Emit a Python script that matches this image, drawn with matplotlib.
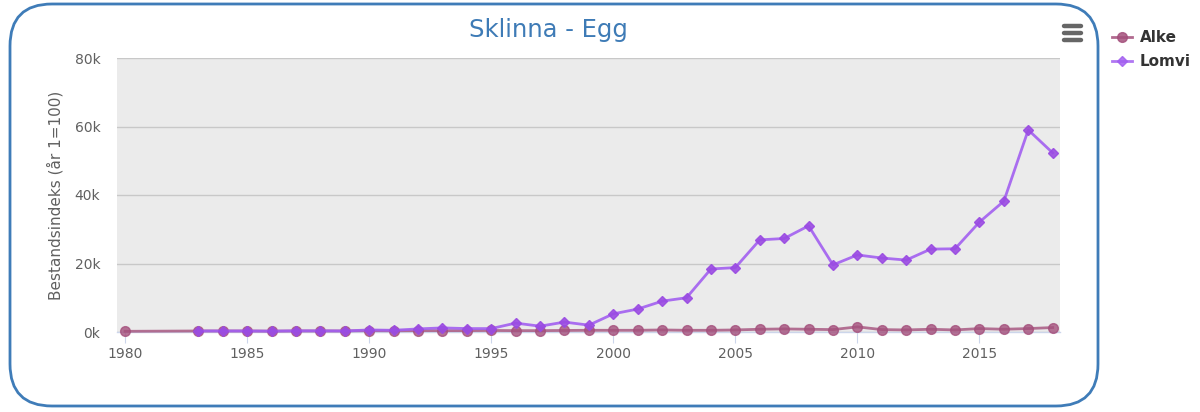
import matplotlib
matplotlib.use("Agg")
import matplotlib.pyplot as plt
from matplotlib.patches import FancyBboxPatch
from matplotlib.lines import Line2D

years_alke = [1980] + list(range(1983, 2019))
alke = [200,
        300, 300, 300, 250, 300, 300, 300, 400, 350, 400,
        400, 400, 450, 400, 400, 450, 500, 500, 500, 600,
        500, 500, 600, 800, 900, 800, 700, 1500, 700, 600,
        800, 600, 1000, 800, 1000, 1300]

years_lomvi = list(range(1983, 2019))
lomvi = [300, 300, 300, 250, 350, 350, 300, 600, 500, 900, 1200, 1000, 1000,
         2600, 1700, 2900, 2000, 5300, 6700, 9000, 10000, 18400, 18800, 26900,
         27300, 31000, 19600, 22500, 21600, 21000, 24200, 24300, 32100, 38200,
         59000, 52300]

yticks = [0, 20000, 40000, 60000, 80000]
ytick_labels = ["0k", "20k", "40k", "60k", "80k"]
xticks = [1980, 1985, 1990, 1995, 2000, 2005, 2010, 2015]

c_alke = "#a4507c"
c_lomvi = "#a25ff0"

fig = plt.figure(figsize=(12, 4.12), dpi=100)
fig.patch.set_facecolor("white")

# rounded border
border = FancyBboxPatch((10 / 1200, 6 / 412), 1088 / 1200, 402 / 412,
                        boxstyle="round,pad=0,rounding_size=0.035",
                        transform=fig.transFigure, fill=False,
                        edgecolor="#3f7cb8", linewidth=2, mutation_aspect=1200 / 412)
fig.patches.append(border)

ax = fig.add_axes([117 / 1200, 1 - 332 / 412, (1060 - 117) / 1200, (332 - 58) / 412])
ax.set_facecolor("#ebebeb")
ax.set_xlim(1979.67, 2018.3)
ax.set_ylim(0, 80000)
ax.set_yticks(yticks)
ax.set_yticklabels(ytick_labels)
ax.set_xticks(xticks)
ax.set_xticklabels([str(x) for x in xticks])
ax.grid(axis="y", color="#c8c8c8", linewidth=1)
ax.set_axisbelow(True)
for s in ["top", "right", "left"]:
    ax.spines[s].set_visible(False)
ax.spines["bottom"].set_color("#ccd6eb")
ax.spines["bottom"].set_linewidth(1)
ax.tick_params(axis="y", length=0, labelsize=10, labelcolor="#606060", pad=12)
ax.tick_params(axis="x", length=8, color="#ccd6eb", labelsize=10, labelcolor="#606060", pad=3)
ax.set_ylabel("Bestandsindeks (år 1=100)", fontsize=11, color="#606060", labelpad=8)

ax.plot(years_alke, alke, color=c_alke, linewidth=2, marker="o", markersize=7,
        alpha=0.8, clip_on=False, zorder=3)
ax.plot(years_lomvi, lomvi, color=c_lomvi, linewidth=2, marker="D", markersize=5.5,
        alpha=0.9, clip_on=False, zorder=4, markerfacecolor="#9a4be2", markeredgecolor="#9a4be2")

fig.text(548 / 1200, 1 - 30 / 412, "Sklinna - Egg", ha="center", va="center",
         fontsize=17.5, color="#3e7bb6")

# menu icon
for dy in (-7, 0, 7):
    fig.add_artist(Line2D([1064 / 1200, 1081 / 1200], [1 - (33 + dy) / 412] * 2,
                          color="#666666", linewidth=3.2, solid_capstyle="round"))

# legend
for i, (lab, col, mk, ms) in enumerate([("Alke", c_alke, "o", 7), ("Lomvi", c_lomvi, "D", 5.5)]):
    yy = 1 - (37 + i * 24) / 412
    fig.add_artist(Line2D([1112 / 1200, 1132 / 1200], [yy, yy], color=col, linewidth=2, alpha=0.85))
    fig.add_artist(Line2D([1122 / 1200], [yy], color=col, marker=mk, markersize=ms, alpha=0.85))
    fig.text(1140 / 1200, yy, lab, ha="left", va="center", fontsize=11,
             fontweight="bold", color="#333333")

fig.savefig("out.png", dpi=100)
